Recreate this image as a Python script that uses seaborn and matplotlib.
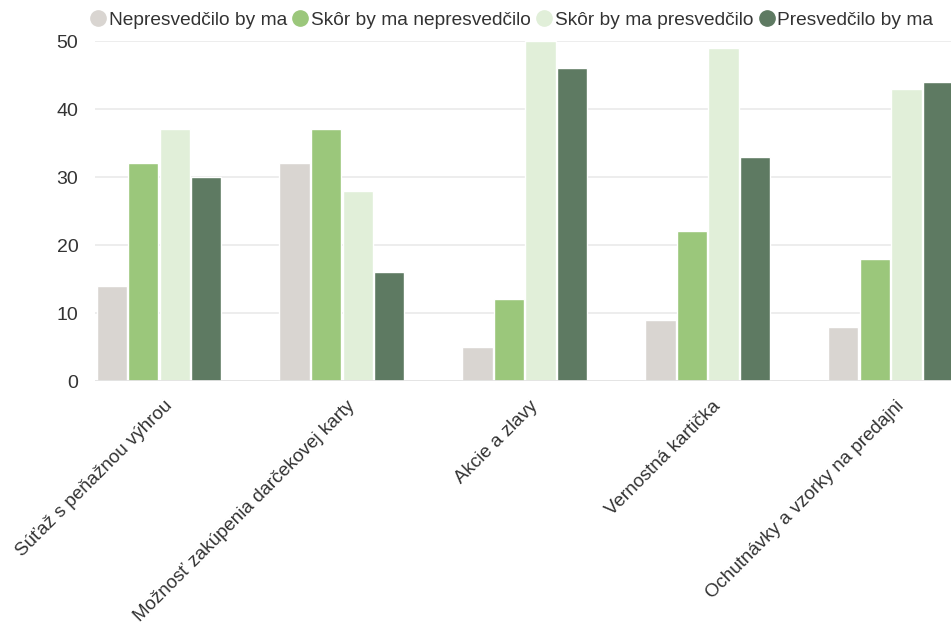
import matplotlib
matplotlib.use("Agg")
import matplotlib.pyplot as plt
from matplotlib.lines import Line2D
import seaborn as sns
import pandas as pd

categories = [
    "Súťaž s peňažnou výhrou",
    "Možnosť zakúpenia darčekovej karty",
    "Akcie a zlavy",
    "Vernostná kartička",
    "Ochutnávky a vzorky na predajni",
]
series_names = [
    "Nepresvedčilo by ma",
    "Skôr by ma nepresvedčilo",
    "Skôr by ma presvedčilo",
    "Presvedčilo by ma",
]
nepresvedcilo = [14, 32, 5, 9, 8]
skor_nepresvedcilo = [32, 37, 12, 22, 18]
skor_presvedcilo = [37, 28, 50, 49, 43]
presvedcilo = [30, 16, 46, 33, 44]
y_ticks = [0, 10, 20, 30, 40, 50]
colors = ["#d9d5d1", "#9bc77b", "#e1efd9", "#5e7a62"]

values = [nepresvedcilo, skor_nepresvedcilo, skor_presvedcilo, presvedcilo]
rows = []
for name, vals in zip(series_names, values):
    for cat, v in zip(categories, vals):
        rows.append({"cat": cat, "series": name, "value": v})
df = pd.DataFrame(rows)

sns.set_theme(style="white")
plt.rcParams["font.family"] = ["Liberation Sans", "DejaVu Sans"]

fig = plt.figure(figsize=(9.51, 6.27), dpi=100)
W, H = 951, 627
ax = fig.add_axes([95 / W, (H - 381) / H, (951 - 95) / W, (381 - 41) / H])

sns.barplot(
    data=df, x="cat", y="value", hue="series", order=categories,
    hue_order=series_names, palette=colors, width=0.69, gap=0.04,
    saturation=1, ax=ax, legend=False, zorder=3,
)

ax.set_xlim(-0.35, 4.33)
ax.set_ylim(0, 50)
ax.set_yticks(y_ticks)
ax.set_xlabel("")
ax.set_ylabel("")
for s in ax.spines.values():
    s.set_visible(False)
ax.grid(axis="y", color="#ececec", linewidth=1.3, zorder=0)
ax.grid(axis="x", visible=False)
ax.axhline(0, color="#e4e4e4", linewidth=2, zorder=4)
ax.tick_params(axis="y", length=0, pad=12, labelsize=14, labelcolor="#333333")
ax.tick_params(axis="x", length=0, pad=12, labelsize=13.5, labelcolor="#333333")
ax.set_xticks([i + 0.025 for i in range(len(categories))])
ax.set_xticklabels(categories, rotation=45, ha="right", rotation_mode="anchor")

handles = [Line2D([0], [0], marker="o", linestyle="", markersize=11,
                  markerfacecolor=c, markeredgecolor=c) for c in colors]
fig.legend(handles, series_names, loc="center left", bbox_to_anchor=(90.5 / W, 0.968),
           ncol=4, frameon=False, fontsize=13.8, handletextpad=0.15,
           columnspacing=0.3, handlelength=0.8, labelcolor="#333333",
           borderaxespad=0, borderpad=0)

fig.savefig("out.png", dpi=100)
